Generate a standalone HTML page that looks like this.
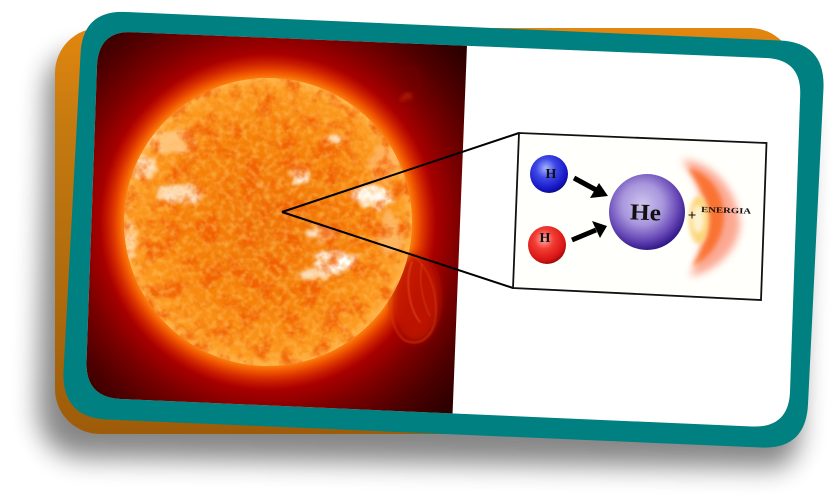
<!DOCTYPE html>
<html lang="es">
<head>
<meta charset="utf-8">
<title>Fusión nuclear en el Sol</title>
<style>
html,body{margin:0;padding:0;background:#fff;width:834px;height:503px;overflow:hidden}
svg{display:block}
text{font-family:"Liberation Serif",serif;font-weight:bold;fill:#111}
</style>
</head>
<body>
<svg width="834" height="503" viewBox="0 0 834 503" xmlns="http://www.w3.org/2000/svg">
<defs>
  <filter id="blur14" x="-20%" y="-20%" width="140%" height="140%"><feGaussianBlur stdDeviation="13"/></filter>
  <filter id="blur4" x="-50%" y="-50%" width="200%" height="200%"><feGaussianBlur stdDeviation="4"/></filter>
  <filter id="blur2" x="-50%" y="-50%" width="200%" height="200%"><feGaussianBlur stdDeviation="2.400"/></filter>
  <filter id="blur1" x="-20%" y="-20%" width="140%" height="140%"><feGaussianBlur stdDeviation="0.8"/></filter>
  <filter id="granules" x="0" y="0" width="100%" height="100%" color-interpolation-filters="sRGB">
    <feTurbulence type="fractalNoise" baseFrequency="0.17" numOctaves="3" seed="7" result="n"/>
    <feColorMatrix in="n" type="matrix" values="0 0 0 0 1  0 0 0 0 0.74  0 0 0 0 0.36  2.6 0 0 0 -1.05" result="light"/>
    <feGaussianBlur in="light" stdDeviation="0.5" result="soft"/>
    <feComposite in="soft" in2="SourceAlpha" operator="in"/>
  </filter>
  <filter id="darkspots" x="0" y="0" width="100%" height="100%" color-interpolation-filters="sRGB">
    <feTurbulence type="fractalNoise" baseFrequency="0.05" numOctaves="4" seed="21" result="n"/>
    <feColorMatrix in="n" type="matrix" values="0 0 0 0 0.94  0 0 0 0 0.36  0 0 0 0 0  0 4 0 0 -1.85" result="d"/>
    <feComposite in="d" in2="SourceAlpha" operator="in"/>
  </filter>
  <filter id="flare" x="-40%" y="-40%" width="180%" height="180%" color-interpolation-filters="sRGB">
    <feTurbulence type="fractalNoise" baseFrequency="0.12" numOctaves="3" seed="4" result="n"/>
    <feDisplacementMap in="SourceGraphic" in2="n" scale="16" xChannelSelector="R" yChannelSelector="G" result="d"/>
    <feGaussianBlur in="d" stdDeviation="1.600"/>
  </filter>
  <linearGradient id="backGrad" x1="0" y1="0" x2="0" y2="1">
    <stop offset="0" stop-color="#e2860f"/><stop offset="0.25" stop-color="#c47a10"/><stop offset="1" stop-color="#9e5c0a"/>
  </linearGradient>
  <radialGradient id="skyGrad" gradientUnits="userSpaceOnUse" cx="268" cy="222" r="300">
    <stop offset="0" stop-color="#c81800"/>
    <stop offset="0.5" stop-color="#c81800"/>
    <stop offset="0.56" stop-color="#a80000"/>
    <stop offset="0.64" stop-color="#7c0000"/>
    <stop offset="0.74" stop-color="#520000"/>
    <stop offset="0.84" stop-color="#320000"/>
    <stop offset="1" stop-color="#180000"/>
  </radialGradient>
  <radialGradient id="sunGrad" gradientUnits="userSpaceOnUse" cx="268" cy="222" r="145">
    <stop offset="0" stop-color="#ef7408"/>
    <stop offset="0.6" stop-color="#f68208"/>
    <stop offset="0.93" stop-color="#fc9a20"/>
    <stop offset="1" stop-color="#ffb850"/>
  </radialGradient>
  <radialGradient id="glowGrad" gradientUnits="userSpaceOnUse" cx="268" cy="222" r="172">
    <stop offset="0.82" stop-color="#ff9a18" stop-opacity="1"/>
    <stop offset="0.87" stop-color="#f86200" stop-opacity="0.85"/>
    <stop offset="0.98" stop-color="#d81800" stop-opacity="0"/>
  </radialGradient>
  <radialGradient id="blueGrad" cx="0.42" cy="0.35" r="0.65">
    <stop offset="0" stop-color="#a6b6f8"/><stop offset="0.4" stop-color="#3f48e8"/><stop offset="0.85" stop-color="#1616c4"/><stop offset="1" stop-color="#0c0c8c"/>
  </radialGradient>
  <radialGradient id="redGrad" cx="0.42" cy="0.35" r="0.65">
    <stop offset="0" stop-color="#fbb0a8"/><stop offset="0.4" stop-color="#f23c34"/><stop offset="0.85" stop-color="#d81414"/><stop offset="1" stop-color="#9c0c0c"/>
  </radialGradient>
  <radialGradient id="heGrad" cx="0.44" cy="0.4" r="0.6">
    <stop offset="0" stop-color="#cfc4ee"/><stop offset="0.45" stop-color="#a896dc"/><stop offset="0.8" stop-color="#6444b4"/><stop offset="1" stop-color="#321a88"/>
  </radialGradient>
  <clipPath id="innerClip">
    <path d="M132 32.2 L766 58 Q801.5 59.5 800.2 95 L790 392 Q788.5 428 752 426.5 L121 399 Q85.5 397.5 86.5 362 L97 66 Q98.5 30.7 132 32.2 Z"/>
  </clipPath>
  <clipPath id="photoClip"><polygon points="80,25 467,45 452.500,415 70,400"/></clipPath>
  <clipPath id="sunClip"><circle cx="268" cy="222" r="144"/></clipPath>
</defs>

<!-- shadow -->
<path d="M88 52 Q48 52 46 90 L38 405 Q38 456 85 458 L770 468 Q796 468 800 435 L806 120 L780 60 Z" fill="#000" opacity="0.47" filter="url(#blur14)"/>

<!-- orange card behind -->
<rect x="55" y="28" width="740" height="406" rx="45" ry="45" fill="url(#backGrad)"/>

<!-- teal frame -->
<path d="M126 12 L780 40.5 Q825 42.5 823.5 88 L808 404 Q806 449.5 761 447.5 L107 419.5 Q62 417.5 63.5 372 L80.5 55 Q82 10 126 12 Z" fill="#008080"/>

<!-- picture -->
<g clip-path="url(#innerClip)">
  <rect x="60" y="20" width="770" height="420" fill="#fff"/>
  <g>
    <polygon points="80,25 467,45 452.500,415 70,400" fill="url(#skyGrad)"/>
    <g clip-path="url(#photoClip)">
      <circle cx="268" cy="222" r="172" fill="url(#glowGrad)"/>
      <g fill="none" stroke-linecap="round">
        <ellipse cx="416" cy="298" rx="24" ry="44" fill="#c01400" opacity="0.9" filter="url(#blur4)"/>
        <path d="M398 268 C384 292 388 326 404 340 C420 348 436 336 436 310 C436 288 428 268 414 256" stroke="#d83c10" stroke-width="2" opacity="0.55" filter="url(#blur1)"/>
        <path d="M412 262 C404 282 410 310 420 322" stroke="#e85a20" stroke-width="1.600" opacity="0.6" filter="url(#blur1)"/>
        <path d="M422 264 C418 284 424 304 430 316" stroke="#d84a18" stroke-width="1.300" opacity="0.6" filter="url(#blur1)"/>
        <path d="M400 72 q18 -14 20 16" stroke="#8a1000" stroke-width="2.500" opacity="0.45" filter="url(#blur2)"/>
        <path d="M402 100 q8 -10 8 -2" stroke="#d83810" stroke-width="3" opacity="0.7" filter="url(#blur2)"/>
      </g>
      <circle cx="268" cy="222" r="144" fill="url(#sunGrad)"/>
      <g clip-path="url(#sunClip)">
        <g filter="url(#flare)" fill="#fff">
          <ellipse cx="172" cy="142" rx="24" ry="12" fill="#ffd8a8" opacity="0.7"/>
          <ellipse cx="143" cy="168" rx="12" ry="12" opacity="0.7"/>
          <ellipse cx="180" cy="194" rx="24" ry="9" opacity="0.75"/>
          <ellipse cx="129" cy="240" rx="8" ry="18" fill="#ffe2c0" opacity="0.8"/>
          <ellipse cx="300" cy="177" rx="10" ry="9"/>
          <ellipse cx="373" cy="197" rx="22" ry="11" opacity="0.95"/>
          <ellipse cx="333" cy="140" rx="9" ry="4" opacity="0.85"/>
          <ellipse cx="320" cy="234" rx="16" ry="7" opacity="0.85"/>
          <ellipse cx="336" cy="262" rx="22" ry="11"/>
          <ellipse cx="315" cy="275" rx="18" ry="4" opacity="0.75"/>
          <ellipse cx="260" cy="186" rx="3" ry="2"/>
          <ellipse cx="385" cy="165" rx="16" ry="18" fill="#ffc080" opacity="0.6"/>
          <ellipse cx="390" cy="235" rx="12" ry="22" fill="#ffc890" opacity="0.6"/>
        </g>
        <rect x="120" y="75" width="296" height="294" fill="#000" filter="url(#darkspots)" opacity="0.8"/>
        <rect x="120" y="75" width="296" height="294" fill="#000" filter="url(#granules)" opacity="0.6"/>
      </g>
    </g>
  </g>

  <!-- zoom lines -->
  <line x1="282" y1="212" x2="519" y2="133" stroke="#000" stroke-width="2"/>
  <line x1="282" y1="212" x2="513" y2="288" stroke="#000" stroke-width="2"/>

  <!-- diagram -->
  <g>
    <polygon points="519,133 766.500,143 761,300 513,288" fill="#fffffb" stroke="#111" stroke-width="1.800"/>
    <g>
      <path d="M682 160 C708 160 736 185 740 222 C741 250 712 274 690 276 C700 255 705 240 704 216 C703 195 695 178 682 160 Z" fill="#fb9a80" opacity="0.85" filter="url(#blur4)"/>
      <path d="M688 168 C708 172 724 192 724 216 C724 240 708 260 692 266 C702 250 708 234 707 214 C706 196 697 182 688 168 Z" fill="#f9661c" opacity="0.8" filter="url(#blur2)"/>
      <ellipse cx="699" cy="220" rx="10" ry="24" fill="#fbd67a" filter="url(#blur2)"/>
      <ellipse cx="698" cy="219" rx="6" ry="14" fill="#fdf3cf" filter="url(#blur2)"/>
    </g>
    <circle cx="647" cy="212" r="38" fill="url(#heGrad)"/>
    <text x="630" y="220" font-size="23" textLength="31" lengthAdjust="spacingAndGlyphs" transform="rotate(2 646 212)">He</text>
    <circle cx="549" cy="174" r="19" fill="url(#blueGrad)"/>
    <text x="551" y="178" font-size="14" text-anchor="middle">H</text>
    <circle cx="547" cy="245" r="19" fill="url(#redGrad)"/>
    <text x="545" y="242" font-size="14" text-anchor="middle">H</text>
    <g>
      <line x1="574" y1="178" x2="598" y2="191" stroke="#000" stroke-width="5"/>
      <polygon points="608,196 590,198 599,183" fill="#000"/>
    </g>
    <g>
      <line x1="572" y1="240" x2="596" y2="230" stroke="#000" stroke-width="5"/>
      <polygon points="607,226 592,221 600,238" fill="#000"/>
    </g>
    <text x="692" y="220" font-size="15" text-anchor="middle">+</text>
    <text x="701" y="212" font-size="8" textLength="50" lengthAdjust="spacingAndGlyphs" transform="rotate(2 701 212)">ENERGIA</text>
  </g>
</g>
</svg>
</body>
</html>
